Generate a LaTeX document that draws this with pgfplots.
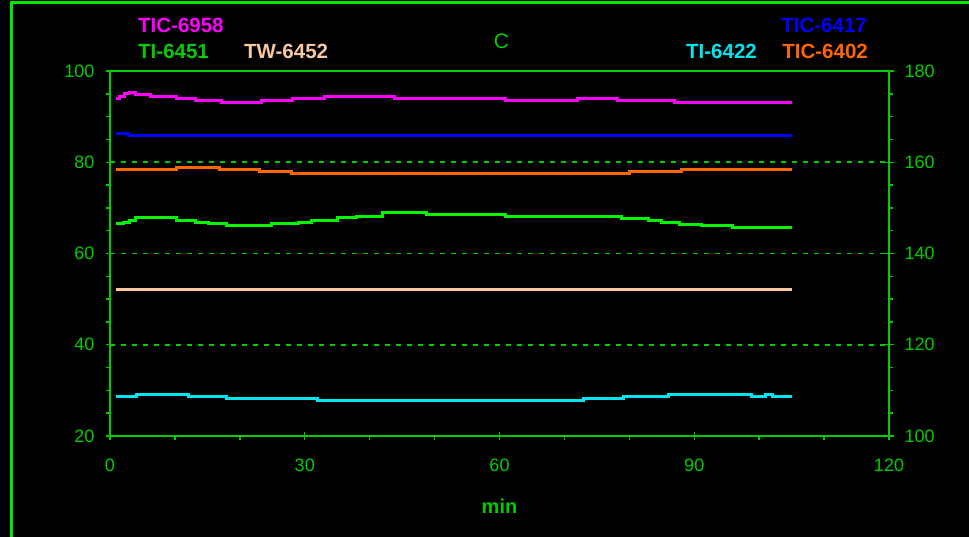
\documentclass[border=0pt]{standalone}
\usepackage{pgfplots}
\pgfplotsset{compat=1.18}
\usepackage{fontspec}
\setmainfont{Liberation Sans}
\definecolor{ag}{RGB}{0,205,0}
\definecolor{fg}{RGB}{0,230,0}
\definecolor{sgreen}{RGB}{0,245,0}
\definecolor{smag}{RGB}{255,0,255}
\definecolor{sblue}{RGB}{0,0,255}
\definecolor{sorange}{RGB}{255,102,0}
\definecolor{stan}{RGB}{250,200,160}
\definecolor{scyan}{RGB}{0,230,240}
\pgfplotsset{chart/.style={
  scale only axis, width=779bp, height=365bp,
  at={(110bp,101bp)}, anchor=south west,
  xmin=0, xmax=120,
  axis line style={ag, line width=1.6bp},
  tick style={ag, line width=1.4bp},
  tick align=center,
  major tick length=9bp, minor tick length=4bp,
  tick label style={font=\fontsize{18bp}{18bp}\selectfont, text=ag},
  /pgf/number format/assume math mode=true,
  every axis plot/.append style={line width=3bp, const plot mark left, mark=none},
}}
\begin{document}
\begin{tikzpicture}
\useasboundingbox (0,0) rectangle (969bp,537bp);
\fill[black] (0,0) rectangle (969bp,537bp);
\draw[fg, line width=2.5bp] (11.5bp,-10bp) -- (11.5bp,534.5bp) -- (990bp,534.5bp);
\begin{axis}[chart,
  ymin=20, ymax=100,
  xtick={0,30,60,90,120}, minor x tick num=2,
  ytick={20,40,60,80,100}, minor y tick num=3,
  xtick pos=bottom, ytick pos=left,
  minor x tick style={yshift=-2bp},
  minor y tick style={xshift=-2bp},
  ymajorgrids, major grid style={ag, line width=1.7bp, dash pattern=on 5bp off 6bp},
  xticklabel style={inner sep=0pt, anchor=north, yshift=-18bp},
  yticklabel style={inner sep=0pt, anchor=east, xshift=-11bp},
  xlabel={\bfseries min},
  xlabel style={font=\fontsize{20bp}{20bp}\selectfont, text=ag, at={(axis description cs:0.5,0)}, anchor=center, yshift=-70bp, inner sep=0pt},
]
\addplot[smag] coordinates {(0.9,94.0) (1.5,94.5) (2.2,95.0) (3.0,95.3) (4.0,94.9) (6.2,94.5) (10.2,94.0) (13.1,93.6) (17.1,93.2) (23.3,93.6) (28.1,94.0) (33.0,94.5) (43.8,94.0) (60.9,93.6) (72.0,94.0) (78.1,93.6) (87.0,93.2) (105,93.2)};
\addplot[sgreen] coordinates {(0.9,66.5) (2.05,66.9) (3.0,67.3) (4.0,67.8) (10.2,67.3) (13.1,66.9) (15.1,66.5) (18.0,66.1) (24.9,66.5) (29.0,66.9) (31.1,67.3) (35.1,67.8) (38.0,68.2) (42.0,69.0) (48.8,68.6) (60.9,68.1) (78.8,67.7) (82.9,67.3) (85.0,66.8) (87.8,66.4) (91.1,66.1) (95.9,65.7) (105,65.7)};
\addplot[stan] coordinates {(0.9,52.1) (105,52.1)};
\end{axis}
\begin{axis}[chart,
  ymin=100, ymax=180,
  ytick={100,120,140,160,180}, minor y tick num=3,
  hide x axis, axis y line*=right,
  minor y tick style={xshift=2bp},
  yticklabel style={inner sep=0pt, anchor=west, xshift=11bp},
]
\addplot[sblue] coordinates {(0.9,166.3) (2.8,165.8) (105,165.8)};
\addplot[sorange] coordinates {(0.9,158.45) (10.3,158.9) (16.9,158.45) (23.1,158.0) (28.0,157.6) (80.1,158.0) (88.0,158.45) (105,158.45)};
\addplot[scyan] coordinates {(0.9,108.6) (4.1,109.1) (12.1,108.6) (17.9,108.3) (32.0,107.8) (72.9,108.3) (79.1,108.6) (86.0,109.1) (98.8,108.6) (100.9,109.1) (102.1,108.6) (105,108.6)};
\end{axis}
\begin{scope}[every node/.style={inner sep=0pt, font=\fontsize{20.5bp}{20.5bp}\selectfont\bfseries}]
\node[anchor=west, text=smag] at (138bp,512bp) {TIC-6958};
\node[anchor=west, text=ag] at (138bp,486bp) {TI-6451};
\node[anchor=west, text=stan] at (244bp,486bp) {TW-6452};
\node[anchor=east, text=sblue] at (867bp,512bp) {TIC-6417};
\node[anchor=east, text=scyan] at (757bp,486bp) {TI-6422};
\node[anchor=east, text=sorange] at (868bp,486bp) {TIC-6402};
\node[text=ag, font=\fontsize{21bp}{21bp}\selectfont] at (501.5bp,496bp) {C};
\end{scope}
\end{tikzpicture}
\end{document}
